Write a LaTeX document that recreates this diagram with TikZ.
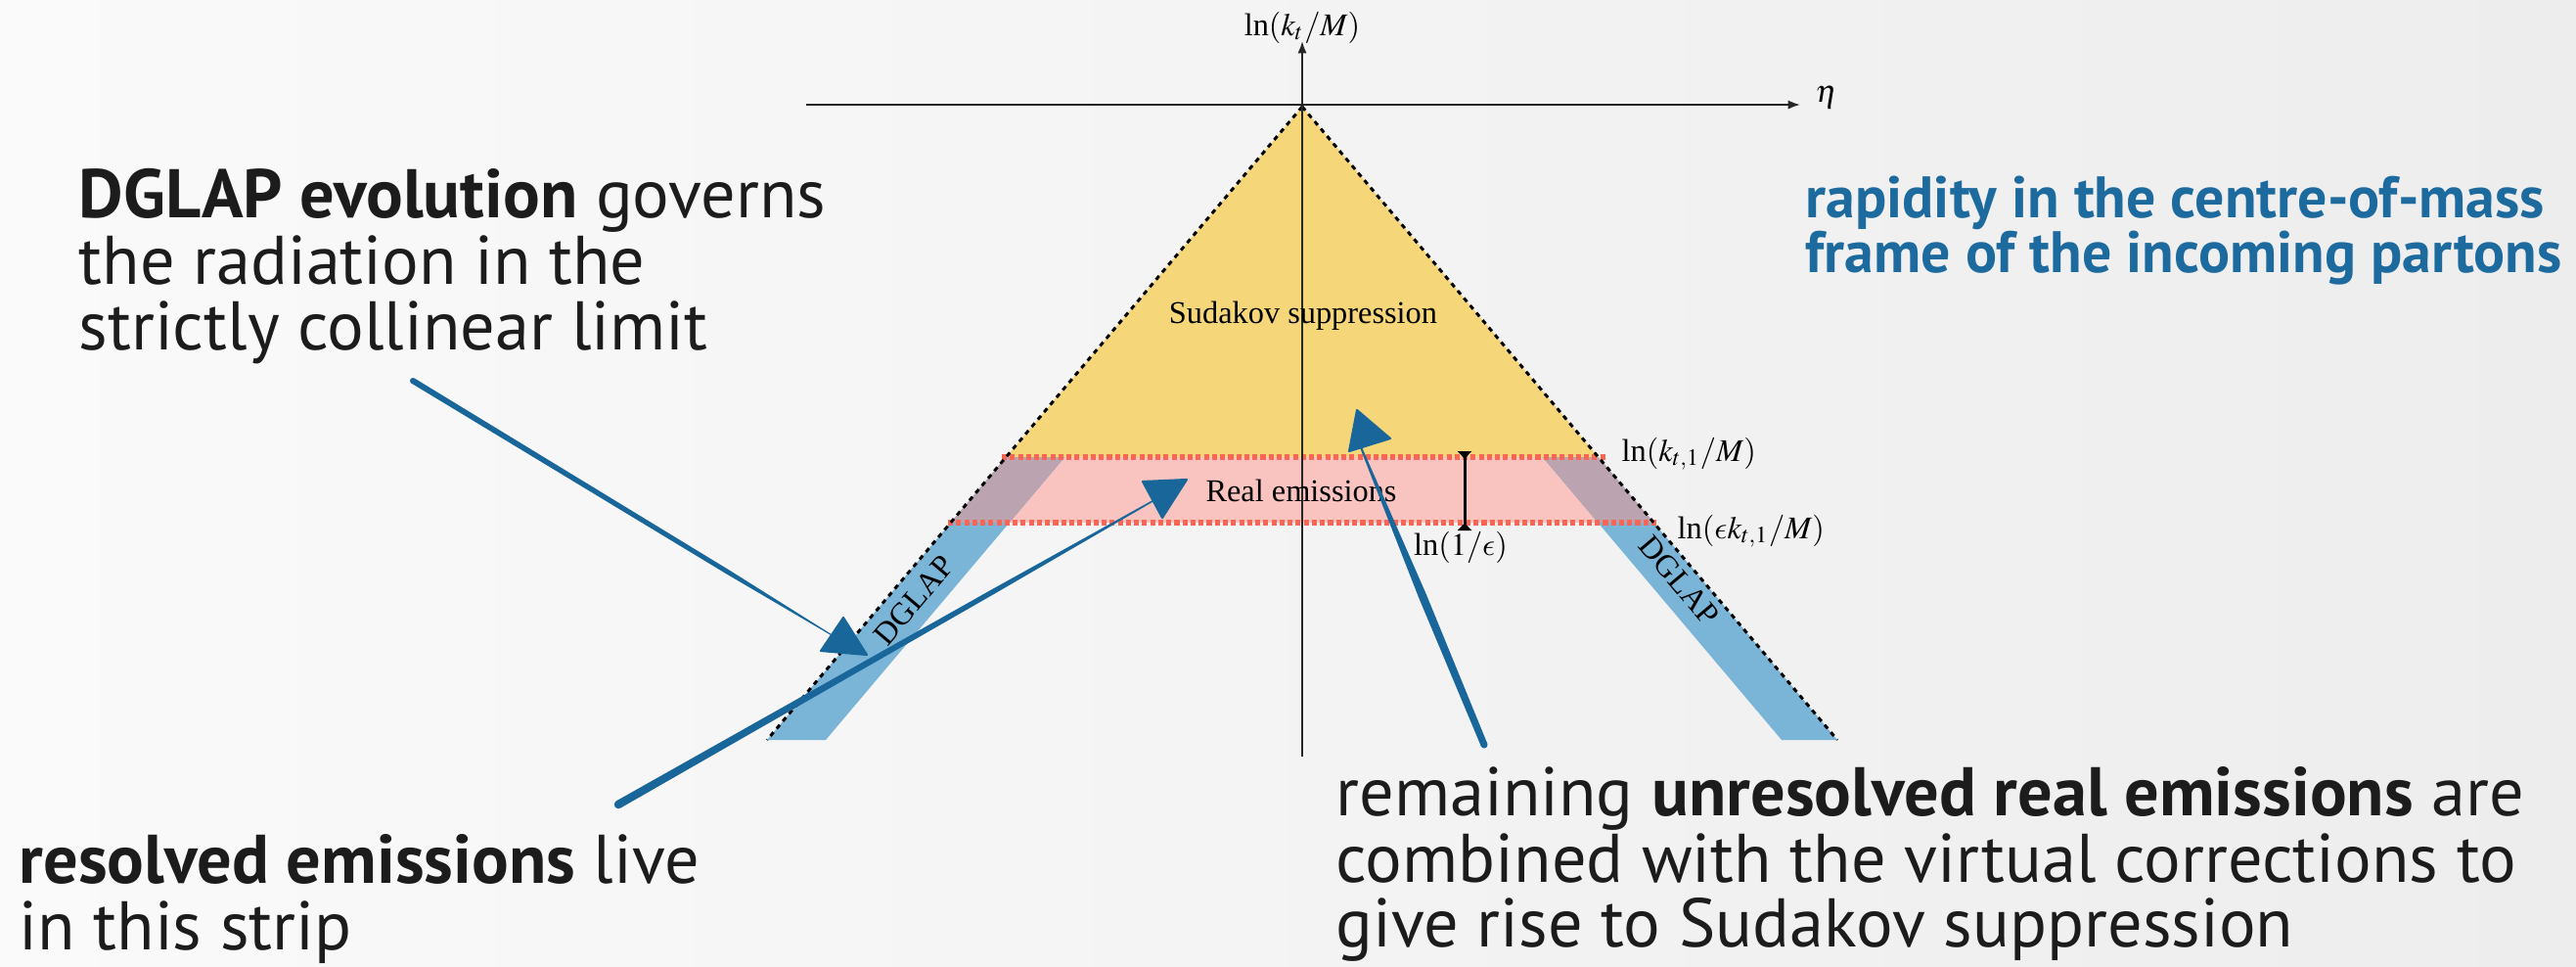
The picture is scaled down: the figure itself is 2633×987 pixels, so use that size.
\documentclass[tikz,border=0pt]{standalone}
\usepackage{mathptmx}
\usepackage{fontspec}
\setmainfont{Liberation Serif}
\newfontfamily\slidefont{PT Sans}
\DeclareSymbolFont{cmletters}{OML}{cmm}{m}{it}
\DeclareMathSymbol{\lunateeps}{\mathord}{cmletters}{"0F}
\usetikzlibrary{calc,arrows.meta}
\definecolor{bgA}{HTML}{FAFAFA}
\definecolor{bgB}{HTML}{EDEDED}
\definecolor{sudyellow}{HTML}{F5D679}
\definecolor{realpink}{HTML}{F9C3BF}
\definecolor{dglapblue}{HTML}{7AB5D8}
\definecolor{overlapc}{HTML}{BBA4B0}
\definecolor{reddot}{HTML}{FA6655}
\definecolor{arrowblue}{HTML}{19679A}
\definecolor{textblue}{HTML}{1D6A9E}
\definecolor{textdark}{HTML}{1C1C1C}
% tail, tip, tail half-width, tip half-width, fraction of middle point, middle half-width
\newcommand\taperarrow[6]{%
  \coordinate (tpm) at ($(#1)!#5!(#2)$);
  \fill[blob] ($(#1)!#3!90:(#2)$) -- ($(tpm)!#6!90:(#2)$) -- ($(#2)!#4!-90:(#1)$) -- ($(#2)!#4!90:(#1)$) -- ($(tpm)!#6!-90:(#2)$) -- ($(#1)!#3!-90:(#2)$) -- cycle;
  \fill[blob] (#1) circle[radius=#3];}
\tikzset{
  lbl/.style={font=\fontsize{9.2}{11}\selectfont, inner sep=0pt, text=black},
  slide/.style={font=\slidefont\fontsize{20}{24}\selectfont, text=textdark, inner sep=0pt, anchor=base west},
  slideblue/.style={font=\slidefont\bfseries\fontsize{17}{20}\selectfont, text=textblue, inner sep=0pt, anchor=base west},
  redline/.style={draw=reddot, line width=1.45pt, dash pattern=on 1.45pt off 0.9pt},
  edgeline/.style={draw=black, line width=0.85pt, dash pattern=on 1.4pt off 1.4pt},
  axisline/.style={draw=black!85, line width=0.5pt, -{Latex[length=3.5pt,width=2.6pt]}},
  blob/.style={fill=arrowblue},
  headtri/.style={fill=arrowblue, draw=arrowblue, line width=0.6pt, line join=round},
}
\begin{document}
\begin{tikzpicture}[x=0.01cm, y=-0.01cm]
\useasboundingbox (0,0) rectangle (2633,987);
\shade[left color=bgA, right color=bgB] (0,0) rectangle (2633,987);

% key points of the triangle
\coordinate (apex) at (1331,109);
\coordinate (Ltop) at (1028.3,467);
\coordinate (Rtop) at (1633.7,467);
\coordinate (Lmid) at (971.7,534);
\coordinate (Rmid) at (1690.3,534);
\coordinate (Lbot) at (784,756);
\coordinate (Rbot) at (1878,756);

% regions
\fill[sudyellow] (apex) -- (Ltop) -- (Rtop) -- cycle;
\fill[realpink] (Ltop) -- (Rtop) -- (Rmid) -- (Lmid) -- cycle;
\fill[dglapblue] (Ltop) -- (1088.3,467) -- (844,756) -- (Lbot) -- cycle;
\fill[dglapblue] (Rtop) -- (1576.7,467) -- (1821,756) -- (Rbot) -- cycle;
\fill[overlapc] (Ltop) -- (1088.3,467) -- (1031.7,534) -- (Lmid) -- cycle;
\fill[overlapc] (1576.7,467) -- (Rtop) -- (Rmid) -- (1633.3,534) -- cycle;

% dotted strip boundaries
\coordinate (rt1) at (1024,467);
\coordinate (rt2) at (1642,467);
\coordinate (rb1) at (969,534);
\coordinate (rb2) at (1693,534);
\draw[redline] (rt1) -- (rt2);
\draw[redline] (rb1) -- (rb2);

% dashed triangle edges
\draw[edgeline] (apex) -- (Lbot);
\draw[edgeline] (apex) -- (Rbot);

% axes
\coordinate (hx0) at (824,107);
\coordinate (hx1) at (1840,107);
\coordinate (vy0) at (1331,773);
\coordinate (vy1) at (1331,42);
\draw[axisline] (hx0) -- (hx1);
\draw[axisline] (vy0) -- (vy1);
\node[lbl, anchor=base] (ylab) at (1331,36) {ln$(k_t/M)$};
\node[lbl, anchor=base west] (xlab) at (1855,104) {$\eta$};

% region labels
\node[lbl, anchor=base] (sudlab) at (1332,330) {Sudakov suppression};
\node[lbl, anchor=base] (reallab) at (1330,512) {Real emissions};
\node[lbl, rotate=49.8] (dglapL) at (934,613) {DGLAP};
\node[lbl, rotate=-49.8] (dglapR) at (1716,593) {DGLAP};
\node[lbl, anchor=base west] (kt1lab) at (1657,471) {ln$(k_{t,1}/M)$};
\node[lbl, anchor=base west] (ekt1lab) at (1714,550) {ln$(\lunateeps k_{t,1}/M)$};

% ln(1/eps) bar
\coordinate (bar0) at (1497,461);
\coordinate (bar1) at (1497,542);
\draw[line width=0.85pt, {Triangle[reversed,length=2.2pt,width=4pt]}-{Triangle[reversed,length=2.2pt,width=4pt]}] (bar0) -- (bar1);
\node[lbl, anchor=base] (epslab) at (1493,567) {ln$(1/\lunateeps)$};

% texts
\node[slide] (d1) at (80,222) {\textbf{DGLAP evolution} governs};
\node[slide] (d2) at (80,290) {the radiation in the};
\node[slide] (d3) at (80,357) {strictly collinear limit};
\node[slideblue] (b1) at (1845,222) {rapidity in the centre-of-mass};
\node[slideblue] (b2) at (1845,278) {frame of the incoming partons};
\node[slide] (r1) at (19,902) {\textbf{resolved emissions} live};
\node[slide] (r2) at (19,970) {in this strip};
\node[slide] (u1) at (1365,833) {remaining \textbf{unresolved real emissions} are};
\node[slide] (u2) at (1365,901) {combined with the virtual corrections to};
\node[slide] (u3) at (1365,967) {give rise to Sudakov suppression};

% hand-drawn arrows
\coordinate (t1) at (422,389);
\coordinate (s1) at (852,650);
\taperarrow{t1}{s1}{0.03cm}{0.005cm}{0.75}{0.024cm}
\fill[headtri] (862,631) -- (886,669) -- (839,665) -- cycle;

\coordinate (t2) at (632,822);
\coordinate (s2) at (1178,512);
\taperarrow{t2}{s2}{0.042cm}{0.008cm}{0.7}{0.026cm}
\fill[headtri] (1168,492) -- (1213,490) -- (1188,529) -- cycle;

\coordinate (t3) at (1517,761);
\coordinate (s3) at (1391,457);
\taperarrow{t3}{s3}{0.035cm}{0.01cm}{0.5}{0.042cm}
\fill[headtri] (1387,419) -- (1421,448) -- (1379,461) -- cycle;
\end{tikzpicture}
\end{document}
